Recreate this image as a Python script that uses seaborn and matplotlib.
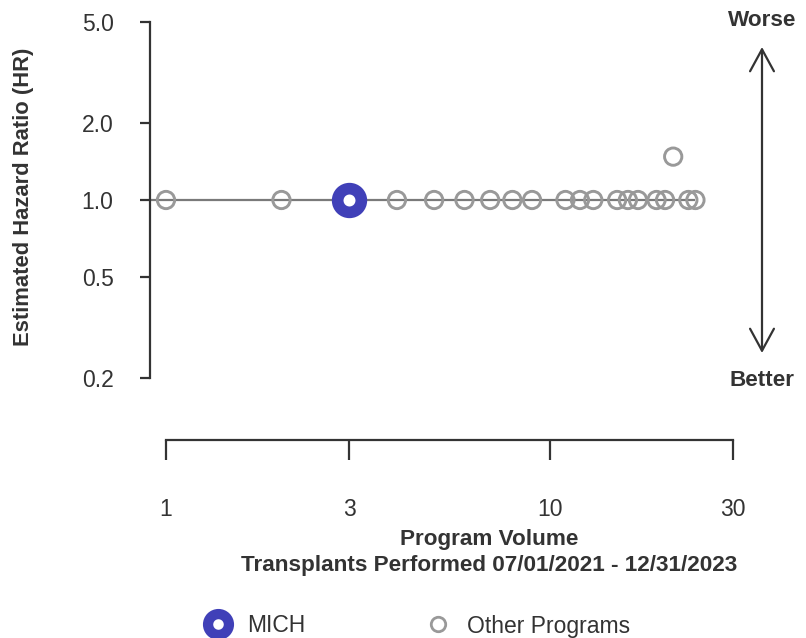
import numpy as np
import matplotlib
matplotlib.use("Agg")
import matplotlib.pyplot as plt
from matplotlib.lines import Line2D
import seaborn as sns

# program volumes and hazard ratios
other_volume = [1, 2, 4, 5, 6, 7, 8, 9, 11, 12, 13, 15, 16, 17, 19, 20, 21, 23, 24]
other_hr = [1.0, 1.0, 1.0, 1.0, 1.0, 1.0, 1.0, 1.0, 1.0, 1.0, 1.0, 1.0, 1.0, 1.0,
            1.0, 1.0, 1.48, 1.0, 1.0]
mich_volume = [3]
mich_hr = [1.0]

y_ticks = [0.2, 0.5, 1.0, 2.0, 5.0]
y_labels = ["0.2", "0.5", "1.0", "2.0", "5.0"]
x_ticks = [1, 3, 10, 30]
x_labels = ["1", "3", "10", "30"]

INK = "#333333"
GREY = "#999999"
LINE_GREY = "#7a7a7a"
BLUE = "#4040b8"
FS = 16.2      # bold titles
FS_TICK = 16.5 # ticks and legend

sns.set_style("white")
plt.rcParams["font.family"] = ["Liberation Sans", "DejaVu Sans"]

W, H = 806, 638
fig = plt.figure(figsize=(W / 100, H / 100), dpi=100)
ax = fig.add_axes([150 / W, 1 - 378 / H, 590 / W, 356 / H])

ax.set_xscale("log")
ax.set_yscale("log")
ax.set_xlim(0.9085, 31.36)
ax.set_ylim(0.2, 5.0)

# reference line at HR = 1
ax.hlines(1.0, 0.9085, max(other_volume), color=LINE_GREY, lw=1.6, zorder=1)

sns.scatterplot(x=other_volume, y=other_hr, ax=ax, s=155, marker="o",
                color="none", edgecolor=GREY, linewidth=2.1, zorder=3)
sns.scatterplot(x=mich_volume, y=mich_hr, ax=ax, s=290, marker="o",
                color="white", edgecolor=BLUE, linewidth=8.4, zorder=4)

for side in ["top", "right"]:
    ax.spines[side].set_visible(False)
ax.spines["left"].set_bounds(0.2, 5.0)
ax.spines["bottom"].set_bounds(1, 30)
ax.spines["bottom"].set_position(("outward", 44.6))
for side in ["left", "bottom"]:
    ax.spines[side].set_color(INK)
    ax.spines[side].set_linewidth(1.6)

ax.set_yticks(y_ticks)
ax.set_yticklabels(y_labels)
ax.set_xticks(x_ticks)
ax.set_xticklabels(x_labels)
ax.minorticks_off()
ax.tick_params(axis="y", direction="out", length=7.2, width=1.6, color=INK,
               labelcolor=INK, labelsize=FS_TICK, pad=19, left=True)
ax.tick_params(axis="x", direction="out", length=14.4, width=1.6, color=INK,
               labelcolor=INK, labelsize=FS_TICK, pad=27.5, bottom=True)
ax.set_xlabel("")
ax.set_ylabel("")

fig.text(24 / W, 1 - 197 / H, "Estimated Hazard Ratio (HR)", rotation=90,
         ha="center", va="center", fontsize=15.8, fontweight="bold", color=INK)
fig.text(489 / W, 1 - 539 / H, "Program Volume", ha="center", va="center",
         fontsize=FS, fontweight="bold", color=INK)
fig.text(489 / W, 1 - 565 / H, "Transplants Performed 07/01/2021 - 12/31/2023",
         ha="center", va="center", fontsize=FS, fontweight="bold", color=INK)

# worse / better arrow
fig.text(762 / W, 1 - 21 / H, "Worse", ha="center", va="center",
         fontsize=FS, fontweight="bold", color=INK)
fig.text(762 / W, 1 - 380 / H, "Better", ha="center", va="center",
         fontsize=FS, fontweight="bold", color=INK)
ax.annotate("", xy=(762 / W, 1 - 47 / H), xytext=(762 / W, 1 - 353 / H),
            xycoords="figure fraction", textcoords="figure fraction",
            arrowprops=dict(arrowstyle="<->,head_length=0.79,head_width=0.43",
                            mutation_scale=20, lw=1.6, color=INK,
                            shrinkA=0, shrinkB=0))

handles = [
    Line2D([], [], ls="none", marker="o", markersize=15.0, markerfacecolor="white",
           markeredgecolor=BLUE, markeredgewidth=7.4),
    Line2D([], [], ls="none", marker="o", markersize=10.4, markerfacecolor="none",
           markeredgecolor=GREY, markeredgewidth=2.0),
]
fig.legend(handles, ["MICH", "Other Programs"], loc="center left",
           bbox_to_anchor=(206.9 / W, 1 - 626 / H), ncol=2, frameon=False,
           fontsize=FS_TICK, handlelength=1.0, handletextpad=0.76,
           columnspacing=5.3, borderpad=0, borderaxespad=0, labelcolor=INK)

fig.savefig("out.png", dpi=100)
